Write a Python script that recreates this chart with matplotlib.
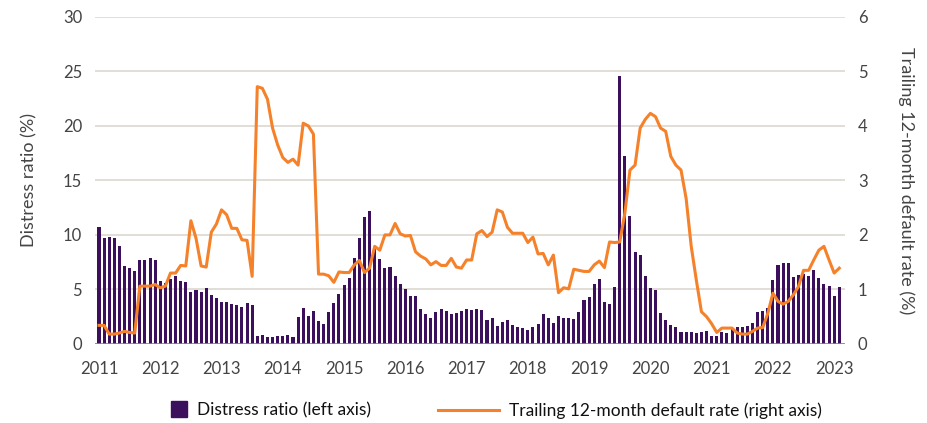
import numpy as np
import matplotlib
matplotlib.use("Agg")
import matplotlib.pyplot as plt
from matplotlib.lines import Line2D

# Datos mensuales (inicio 2011)
distress_ratio = [
    10.7, 9.75, 9.85, 9.75, 9.0, 7.15, 7.0, 6.7, 7.7, 7.7, 7.85, 7.7,
    5.8, 5.6, 5.95, 6.25, 5.8, 5.65, 4.8, 4.9, 4.8, 5.1, 4.5, 4.2,
    3.85, 3.85, 3.65, 3.55, 3.4, 3.75, 3.55, 0.7, 0.8, 0.6, 0.6, 0.7,
    0.7, 0.8, 0.6, 2.5, 3.3, 2.6, 3.0, 2.1, 1.85, 2.9, 3.75, 4.6,
    5.4, 6.05, 7.85, 9.75, 11.65, 12.15, 8.7, 7.75, 7.0, 7.1, 6.2, 5.45,
    5.0, 4.4, 4.4, 3.2, 2.7, 2.4, 2.9, 3.2, 3.05, 2.7, 2.8, 3.0,
    3.2, 3.1, 3.2, 3.1, 2.17, 2.4, 1.65, 2.05, 2.17, 1.75, 1.53, 1.43,
    1.3, 1.53, 1.83, 2.7, 2.4, 1.95, 2.6, 2.4, 2.4, 2.26, 2.9, 4.07,
    4.28, 5.45, 5.95, 3.85, 3.65, 5.23, 24.6, 17.25, 11.75, 8.45, 8.15, 6.2,
    5.15, 4.9, 2.8, 2.17, 1.75, 1.53, 1.1, 1.1, 1.1, 1.0, 1.1, 1.22,
    0.7, 0.7, 1.1, 1.0, 1.43, 1.53, 1.53, 1.65, 1.96, 2.9, 3.0, 3.33,
    5.87, 7.2, 7.43, 7.43, 6.17, 6.3, 6.4, 6.27, 6.8, 6.05, 5.53, 5.32,
    4.37, 5.23,
]

default_rate = [
    0.34, 0.34, 0.18, 0.18, 0.2, 0.23, 0.21, 0.2, 1.06, 1.06, 1.06, 1.09,
    1.03, 1.06, 1.3, 1.3, 1.44, 1.43, 2.26, 1.94, 1.43, 1.41, 2.05, 2.2,
    2.46, 2.37, 2.12, 2.12, 1.91, 1.9, 1.24, 4.72, 4.69, 4.49, 3.96, 3.65,
    3.42, 3.33, 3.39, 3.28, 4.05, 4.0, 3.85, 1.28, 1.28, 1.25, 1.13, 1.32,
    1.31, 1.31, 1.45, 1.53, 1.31, 1.39, 1.79, 1.72, 2.0, 2.0, 2.21, 2.02,
    1.98, 1.99, 1.69, 1.61, 1.56, 1.45, 1.51, 1.44, 1.44, 1.57, 1.41, 1.39,
    1.54, 1.54, 2.02, 2.08, 1.97, 2.05, 2.46, 2.42, 2.14, 2.03, 2.03, 2.03,
    1.86, 1.96, 1.65, 1.66, 1.45, 1.63, 0.94, 1.03, 1.01, 1.37, 1.35, 1.33,
    1.33, 1.45, 1.52, 1.4, 1.87, 1.86, 1.87, 2.4, 3.19, 3.28, 3.96, 4.12,
    4.23, 4.17, 3.96, 3.9, 3.44, 3.28, 3.19, 2.67, 1.79, 1.17, 0.59, 0.5,
    0.37, 0.21, 0.29, 0.29, 0.29, 0.2, 0.18, 0.18, 0.23, 0.29, 0.3, 0.56,
    0.93, 0.78, 0.73, 0.78, 0.9, 1.05, 1.35, 1.35, 1.54, 1.72, 1.79, 1.54,
    1.3, 1.39,
]

years = list(range(2011, 2024))

# Estilo
PURPLE = "#3b0f5c"
ORANGE = "#f5822a"
GRID = "#dddbd3"
TXT = "#444444"
plt.rcParams["font.family"] = ["Lato", "DejaVu Sans"]
plt.rcParams["font.size"] = 11

fig = plt.figure(figsize=(9.28, 4.23), dpi=100)
ax = fig.add_axes([0.102, 0.187, 0.809, 0.773])
ax2 = ax.twinx()

x = np.arange(len(distress_ratio))

# Barras (eje izquierdo) y linea (eje derecho)
ax.bar(x, distress_ratio, width=0.6, color=PURPLE, zorder=2)
ax2.plot(x, default_rate, color=ORANGE, lw=2.2, zorder=3)

ax.set_ylim(0, 30)
ax2.set_ylim(0, 6)
ax.set_yticks(np.arange(0, 31, 5))
ax2.set_yticks(np.arange(0, 7, 1))
ax.set_xlim(-0.85, len(x) + 0.2)

ax.set_xticks([i * 12 for i in range(len(years))])
ax.set_xticklabels([str(y) for y in years])

ax.grid(axis="y", color=GRID, lw=1.3, zorder=0)
ax.set_axisbelow(True)

for a in (ax, ax2):
    for s in ["top", "left", "right", "bottom"]:
        a.spines[s].set_visible(False)
    a.tick_params(length=0, colors=TXT, labelsize=12)
ax.axhline(0, color="#888888", lw=1.2, zorder=4)
ax.tick_params(axis="y", pad=9)
ax.tick_params(axis="x", pad=12)
ax2.tick_params(axis="y", pad=9)

ax.set_ylabel("Distress ratio (%)", color=TXT, fontsize=13, labelpad=18)
ax2.set_ylabel("Trailing 12-month default rate (%)", color=TXT, fontsize=13,
               rotation=270, labelpad=34)

# Leyenda inferior
h1 = Line2D([], [], marker="s", linestyle="", markersize=11, color=PURPLE)
h2 = Line2D([], [], color=ORANGE, lw=2.2)
fig.legend([h1], ["Distress ratio (left axis)"], loc="center left",
           bbox_to_anchor=(0.167, 0.03), frameon=False, handlelength=1,
           handletextpad=0.5, fontsize=12.5, labelcolor="#111111")
fig.legend([h2], ["Trailing 12-month default rate (right axis)"], loc="center left",
           bbox_to_anchor=(0.455, 0.03), frameon=False, handlelength=3.5,
           handletextpad=0.6, fontsize=12.5, labelcolor="#111111")

fig.savefig("out.png", dpi=100)
